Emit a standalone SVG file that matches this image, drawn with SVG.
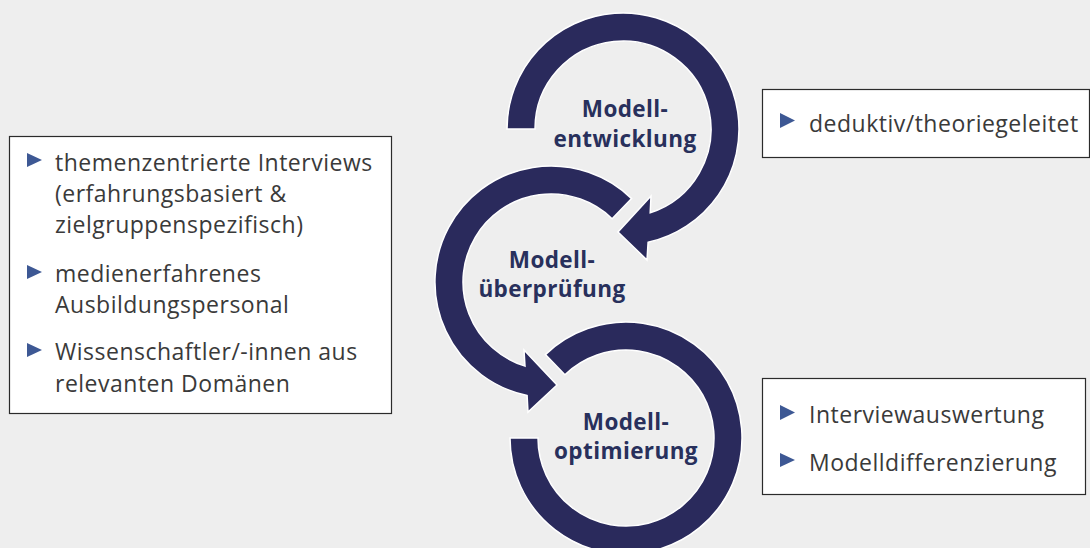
<svg xmlns="http://www.w3.org/2000/svg" width="1090" height="548" viewBox="0 0 1090 548">
<style>
.box{fill:#ffffff;stroke:#2b2b2b;stroke-width:1.2}
.arc{fill:#2a2a5c;stroke:#ffffff;stroke-width:1.5;stroke-linejoin:miter}
.blt{fill:#3d5894}
.t{font-family:"Open Sans","Noto Sans",sans-serif;font-size:23px;letter-spacing:0.5px;fill:#3a3a3a}
.h{font-family:"Open Sans","Noto Sans",sans-serif;font-size:22.5px;letter-spacing:0.4px;font-weight:bold;fill:#28305c;text-anchor:middle}
</style>
<rect x="0" y="0" width="1090" height="548" fill="#eeeeee"/>
<g id="connectors">
<path class="arc" d="M507,129 A116,116 0 1 1 648.1,242.3 L647,260 L618,232 L651,196 L650.2,212.7 A88,88 0 1 0 535,129 Z"/>
<path class="arc" d="M631.6,198.6 A116,116 0 1 0 527.1,395.5 L528,412 L557,385 L524,350 L525,366.1 A88,88 0 1 1 612.1,218.7 Z"/>
<path class="arc" d="M545.4,354.6 A116,116 0 1 1 510,438 L538,438 A88,88 0 1 0 564.9,374.7 Z"/>
</g>
<g id="modellentwicklung">
<text class="h" x="625" y="117">Modell-</text>
<text class="h" x="625" y="147">entwicklung</text>
</g>
<g id="modellueberpruefung">
<text class="h" x="552" y="268">Modell-</text>
<text class="h" x="552" y="297">überprüfung</text>
</g>
<g id="modelloptimierung">
<text class="h" x="626" y="430">Modell-</text>
<text class="h" x="626" y="459">optimierung</text>
</g>
<g id="box-left">
<rect class="box" x="9.5" y="136.5" width="382" height="277"/>
<polygon class="blt" points="27,153 42,160 27,167"/>
<text class="t" x="55" y="171">themenzentrierte Interviews</text>
<text class="t" x="55" y="202">(erfahrungsbasiert &amp;</text>
<text class="t" x="55" y="233">zielgruppenspezifisch)</text>
<polygon class="blt" points="27,265 42,272 27,279"/>
<text class="t" x="55" y="282">medienerfahrenes</text>
<text class="t" x="55" y="313">Ausbildungspersonal</text>
<polygon class="blt" points="27,343 42,350 27,357"/>
<text class="t" x="55" y="360">Wissenschaftler/-innen aus</text>
<text class="t" x="55" y="392">relevanten Domänen</text>
</g>
<g id="box-top-right">
<rect class="box" x="762.5" y="89.5" width="327" height="68"/>
<polygon class="blt" points="780,113 795,120.5 780,128"/>
<text class="t" x="809" y="132">deduktiv/theoriegeleitet</text>
</g>
<g id="box-bottom-right">
<rect class="box" x="762.5" y="378.5" width="323" height="116"/>
<polygon class="blt" points="780,405 795,412.5 780,420"/>
<text class="t" x="809" y="423">Interviewauswertung</text>
<polygon class="blt" points="780,453 795,460 780,467"/>
<text class="t" x="809" y="471">Modelldifferenzierung</text>
</g>
</svg>
